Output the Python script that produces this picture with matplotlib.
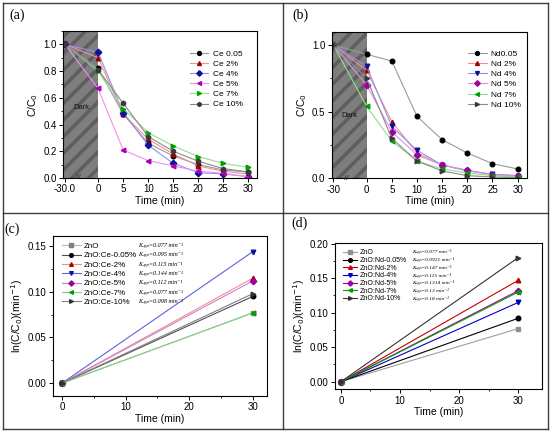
#!/usr/bin/env python3
"""Photodegradation of Ce and Nd doped ZnO: C/C0 curves and ln(C/C0) kinetics."""

import numpy as np
import matplotlib
matplotlib.use('Agg')
import matplotlib.pyplot as plt
from matplotlib.lines import Line2D
from matplotlib.ticker import FixedLocator, MultipleLocator

plt.rcParams['font.family'] = ['Liberation Sans', 'DejaVu Sans']
plt.rcParams['hatch.linewidth'] = 2.6

# ---- panel (a): Ce doped, C/C0 vs time ----
time_deg = [-30, 0, 5, 10, 15, 20, 25, 30]
ce_labels = ['Ce 0.05', 'Ce 2%', 'Ce 4%', 'Ce 5%', 'Ce 7%', 'Ce 10%']
ce_005 = [1.0, 0.82, 0.48, 0.26, 0.165, 0.10, 0.06, 0.045]
ce_2 = [1.0, 0.90, 0.48, 0.29, 0.18, 0.09, 0.05, 0.03]
ce_4 = [1.0, 0.94, 0.49, 0.245, 0.11, 0.04, 0.03, 0.01]
ce_5 = [1.0, 0.67, 0.21, 0.13, 0.09, 0.05, 0.035, 0.01]
ce_7 = [1.0, 0.80, 0.52, 0.34, 0.24, 0.16, 0.11, 0.08]
ce_10 = [1.0, 0.81, 0.56, 0.31, 0.20, 0.125, 0.07, 0.045]

# ---- panel (b): Nd doped, C/C0 vs time ----
nd_labels = ['Nd0.05', 'Nd 2%', 'Nd 4%', 'Nd 5%', 'Nd 7%', 'Nd 10%']
nd_005 = [1.0, 0.93, 0.88, 0.465, 0.29, 0.19, 0.11, 0.07]
nd_2 = [1.0, 0.81, 0.425, 0.19, 0.10, 0.06, 0.03, 0.02]
nd_4 = [1.0, 0.84, 0.39, 0.21, 0.10, 0.055, 0.03, 0.02]
nd_5 = [1.0, 0.70, 0.35, 0.175, 0.10, 0.06, 0.025, 0.015]
nd_7 = [1.0, 0.54, 0.28, 0.13, 0.07, 0.04, 0.02, 0.01]
nd_10 = [1.0, 0.75, 0.30, 0.13, 0.055, 0.02, 0.01, 0.005]

# ---- panels (c)/(d): kinetics ln(C/C0) ----
time_kin = [0, 30]
ce_kin_labels = ['ZnO', 'ZnO:Ce-0.05%', 'ZnO:Ce-2%', 'ZnO:Ce-4%',
                 'ZnO:Ce-5%', 'ZnO:Ce-7%', 'ZnO:Ce-10%']
ce_kin_end = [0.077, 0.095, 0.115, 0.144, 0.112, 0.077, 0.098]
ce_kapp = ['0.077', '0.095', '0.115', '0.144', '0.112', '0.077', '0.098']

nd_kin_labels = ['ZnO', 'ZnO:Nd-0.05%', 'ZnO:Nd-2%', 'ZnO:Nd-4%',
                 'ZnO:Nd-5%', 'ZnO:Nd-7%', 'ZnO:Nd-10%']
nd_kin_end = [0.077, 0.092, 0.147, 0.115, 0.132, 0.13, 0.18]
nd_kapp = ['0.077', '0.0921', '0.147', '0.115', '0.1314', '0.13', '0.18']

# styles (marker, marker colour, line colour)
styles_a = [('o', '#000000', '#9a9a9a'), ('^', '#a00000', '#f09090'),
            ('D', '#10109a', '#9090f0'), ('<', '#b000b0', '#f090f0'),
            ('>', '#00a000', '#90e090'), ('h', '#3a3a3a', '#8a8a8a')]
styles_b = [('o', '#000000', '#9a9a9a'), ('^', '#a00000', '#f09090'),
            ('v', '#10109a', '#9090f0'), ('D', '#a000a0', '#e090e0'),
            ('<', '#00a000', '#90e090'), ('>', '#3a3a3a', '#8a8a8a')]
styles_c = [('s', '#808080', '#b8b8b8'), ('o', '#000000', '#505050'),
            ('^', '#a00000', '#f09090'), ('v', '#10109a', '#6060e0'),
            ('D', '#a000a0', '#d080d0'), ('<', '#00a000', '#80d080'),
            ('>', '#303030', '#808080')]
styles_d = [('s', '#909090', '#a0a0a0'), ('o', '#000000', '#000000'),
            ('^', '#c00000', '#c00000'), ('v', '#0000c0', '#0000c0'),
            ('D', '#a000a0', '#a000a0'), ('<', '#00a000', '#00a000'),
            ('>', '#333333', '#333333')]

W, H = 550, 432
K_DARK = 0.22


def fwd(x):
    x = np.asarray(x, dtype=float)
    return np.where(x < 0, x * K_DARK, x)


def inv(x):
    x = np.asarray(x, dtype=float)
    return np.where(x < 0, x / K_DARK, x)


def px_axes(fig, left, top, right, bottom):
    """Add axes from pixel box."""
    return fig.add_axes([left / W, 1 - bottom / H, (right - left) / W, (bottom - top) / H])


def style_axes(ax):
    for s in ax.spines.values():
        s.set_linewidth(0.8)
    ax.tick_params(which='major', direction='out', length=3, width=0.7, labelsize=7, pad=1.5)
    ax.tick_params(which='minor', direction='out', length=1.5, width=0.6)


def plot_degradation(ax, series, labels, styles, first_label, ymajor, yminor, dark_y,
                     leg_anchor, xlim):
    ax.set_xscale('function', functions=(fwd, inv))
    # dark adsorption period, shaded up to the left frame
    ax.axvspan(xlim[0], 0, facecolor='#7e7e7e', edgecolor='#5e5e5e', hatch='//',
               linewidth=0, zorder=0)
    for vals, lab, (m, mc, lc) in zip(series, labels, styles):
        ax.plot(time_deg, vals, color=lc, linewidth=0.8, marker=m, markersize=3.3,
                markerfacecolor=mc, markeredgecolor=mc, label=lab)
    ax.set_xlim(*xlim)
    ax.set_ylim(0, 1.1)
    ax.xaxis.set_major_locator(FixedLocator([-30, 0, 5, 10, 15, 20, 25, 30]))
    ax.set_xticklabels([first_label, '0', '5', '10', '15', '20', '25', '30'])
    ax.yaxis.set_major_locator(MultipleLocator(ymajor))
    ax.yaxis.set_minor_locator(MultipleLocator(yminor))
    ax.yaxis.set_major_formatter(plt.FormatStrFormatter('%.1f'))
    ax.text(-15.5, dark_y, 'Dark', fontsize=5.5, ha='center', va='center', color='#111111')
    ax.text(-18, 0, '//', fontsize=6, ha='center', va='center', color='#222222')
    ax.set_xlabel('Time (min)', fontsize=7.5, labelpad=1)
    ax.set_ylabel('C/C$_0$', fontsize=7.5, labelpad=2)
    style_axes(ax)
    ax.legend(loc='upper left', bbox_to_anchor=leg_anchor, frameon=False, fontsize=6,
              handlelength=2.2, handletextpad=0.5, labelspacing=0.28, borderpad=0,
              borderaxespad=0, markerscale=0.85)


def plot_kinetics(ax, ends, labels, styles, ylim, xlim, ymajor, leg_anchor,
                  fs, spacing, hlen):
    for end, lab, (m, mc, lc) in zip(ends, labels, styles):
        ax.plot(time_kin, [0, end], color=lc, linewidth=0.8, marker=m, markersize=3.3,
                markerfacecolor=mc, markeredgecolor=mc, label=lab)
    ax.set_xlim(*xlim)
    ax.set_ylim(*ylim)
    ax.xaxis.set_major_locator(MultipleLocator(10))
    ax.xaxis.set_minor_locator(MultipleLocator(5))
    ax.yaxis.set_major_locator(MultipleLocator(ymajor))
    ax.yaxis.set_minor_locator(MultipleLocator(ymajor / 2))
    ax.yaxis.set_major_formatter(plt.FormatStrFormatter('%.2f'))
    ax.set_xlabel('Time (min)', fontsize=7.5, labelpad=1)
    ax.set_ylabel('ln(C/C$_0$)(min$^{-1}$)', fontsize=7.5, labelpad=2)
    style_axes(ax)
    leg = ax.legend(loc='upper left', bbox_to_anchor=leg_anchor, frameon=False, fontsize=fs,
                    handlelength=hlen, handletextpad=0.4, labelspacing=spacing,
                    borderpad=0, borderaxespad=0, markerscale=0.8)
    return leg


fig = plt.figure(figsize=(W / 100, H / 100), dpi=100)


def fline(x0, y0, x1, y1):
    """Panel border line from pixel coordinates."""
    fig.add_artist(Line2D([x0 / W, x1 / W], [1 - y0 / H, 1 - y1 / H],
                          color='#3c3c3c', linewidth=1.0))


fline(2.5, 2.5, 548, 2.5)
fline(2.5, 429, 548, 429)
fline(2.5, 2.5, 2.5, 429)
fline(548, 2.5, 548, 429)
fline(283, 2.5, 283, 429)
fline(2.5, 213, 548, 213)

ax_a = px_axes(fig, 63, 31, 257, 178)
ax_b = px_axes(fig, 331.7, 31.7, 526.7, 178.3)
ax_c = px_axes(fig, 53, 236, 267, 396)
ax_d = px_axes(fig, 335, 242.7, 542, 389.3)

plot_degradation(ax_a, [ce_005, ce_2, ce_4, ce_5, ce_7, ce_10], ce_labels, styles_a,
                 '-30.0', 0.2, 0.1, 0.53, (0.655, 0.872), (-31.8, 31.7))
plot_degradation(ax_b, [nd_005, nd_2, nd_4, nd_5, nd_7, nd_10], nd_labels, styles_b,
                 '-30', 0.5, 0.25, 0.47, (0.70, 0.875), (-31.5, 31.8))

leg_c = plot_kinetics(ax_c, ce_kin_end, ce_kin_labels, styles_c,
                      (-0.014, 0.161), (-1.4, 32.2), 0.05, (0.042, 0.96),
                      5.8, 0.21, 2.3)
leg_d = plot_kinetics(ax_d, nd_kin_end, nd_kin_labels, styles_d,
                      (-0.011, 0.2015), (-1.0, 34.0), 0.05, (0.039, 0.955),
                      5.0, 0.10, 2.0)

# K_app annotations aligned with legend rows (unicode sub/superscripts)
fig.canvas.draw()
for ax, leg, kapps, kx, kfs in [(ax_c, leg_c, ce_kapp, 0.397, 4.4),
                                (ax_d, leg_d, nd_kapp, 0.372, 3.9)]:
    inv_t = ax.transAxes.inverted()
    for t, k in zip(leg.get_texts(), kapps):
        bb = t.get_window_extent()
        _, yc = inv_t.transform((0, (bb.y0 + bb.y1) / 2))
        ax.text(kx, yc + 0.006, 'K\u2090\u209a\u209a=' + k + ' min\u207b\u00b9',
                transform=ax.transAxes, fontsize=kfs,
                family=['Liberation Serif', 'DejaVu Serif'], style='italic',
                va='center', ha='left')

# panel letters
for lab, x, y in [('(a)', 17.5, 15), ('(b)', 300, 15), ('(c)', 12.5, 229), ('(d)', 299.5, 223)]:
    fig.text(x / W, 1 - y / H, lab, fontsize=10, family='Liberation Serif',
             ha='center', va='center')

fig.savefig('out.png', dpi=100)
